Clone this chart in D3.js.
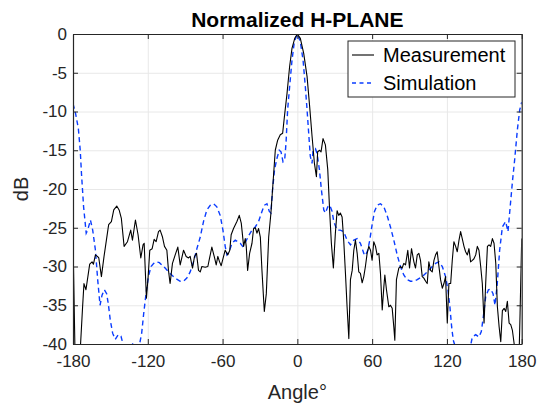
<!DOCTYPE html>
<html>
<head>
<meta charset="utf-8">
<script src="https://cdn.jsdelivr.net/npm/d3@7"></script>
<style>
body { margin: 0; background: #fff; }
svg { font-family: "Liberation Sans", Arial, Helvetica, sans-serif; }
</style>
</head>
<body>
<div id="container"></div>
<script>
// values
const measAngle = [-180, -178.3, -174.6, -172.3, -171.2, -169.6, -166.6, -164.7, -163.6, -162.0, -160.4, -159.3, -157.2, -155.1, -153.2, -151.4, -149.2, -147.3, -144.9, -143.0, -141.2, -139.0, -136.3, -133.7, -132.3, -129.9, -127.8, -125.6, -123.8, -122.9, -121.1, -119.7, -118.4, -116.5, -114.9, -113.3, -111.4, -110.1, -108.2, -106.6, -104.7, -103.4, -102.1, -100.2, -98.0, -95.9, -94.0, -91.3, -89.2, -87.3, -86.0, -84.1, -82.5, -80.9, -79.3, -77.9, -76.6, -73.9, -71.8, -70.4, -68.6, -66.4, -65.1, -63.8, -62.4, -61.1, -59.2, -57.9, -55.8, -54.2, -53.1, -51.2, -48.5, -46.6, -45.0, -43.6, -43.1, -41.8, -41.0, -39.9, -38.3, -36.4, -35.1, -33.7, -32.4, -31.1, -29.7, -28.4, -26.5, -24.9, -23.0, -21.2, -19.0, -17.7, -15.8, -13.7, -11.8, -10.4, -8.3, -6.2, -4.3, -2.1, 0, 2.4, 5.1, 7.8, 9.9, 11.8, 13.7, 15.3, 16.3, 17.9, 19.0, 20.6, 22.5, 24.4, 26.0, 27.3, 28.9, 30.5, 31.9, 33.2, 34.5, 35.9, 37.2, 38.6, 39.9, 41.3, 42.6, 44.0, 45.3, 46.6, 48.0, 49.3, 50.6, 52.0, 53.3, 54.6, 56.0, 57.3, 58.7, 60.0, 61.3, 62.7, 64.0, 65.4, 66.7, 68.1, 69.4, 70.2, 71.5, 73.4, 74.7, 76.1, 77.4, 78.2, 79.5, 81.4, 82.7, 84.1, 85.4, 86.8, 88.6, 90.0, 91.6, 93.5, 94.8, 96.2, 97.5, 98.8, 100.2, 101.5, 102.9, 104.2, 105.5, 106.9, 108.2, 109.6, 110.9, 112.2, 113.6, 114.9, 116.3, 117.6, 118.9, 120.3, 121.6, 123.0, 124.3, 125.6, 127.0, 128.3, 129.7, 131.0, 132.3, 133.7, 135.0, 136.4, 137.7, 139.0, 140.4, 141.7, 143.1, 144.4, 145.7, 147.1, 148.4, 149.8, 151.1, 152.5, 153.8, 155.1, 156.5, 157.8, 159.2, 160.5, 161.9, 163.2, 164.5, 165.9, 167.2, 168.5, 169.9, 171.2, 172.5, 173.9, 174.6, 177.8, 178.7, 180];
const measDb = [-26.4, -42, -42, -35.2, -32.2, -33.0, -29.7, -29.4, -29.7, -28.5, -28.7, -28.9, -31.3, -28.7, -26.6, -24.6, -24.2, -22.7, -22.2, -22.7, -23.8, -27.4, -26.8, -25.3, -26.6, -24.0, -25.9, -28.9, -27.2, -27.0, -34.1, -31.3, -27.9, -27.7, -26.5, -26.8, -25.5, -25.3, -26.2, -27.4, -27.9, -30.5, -32.2, -29.6, -28.5, -27.5, -29.8, -27.9, -28.7, -28.9, -28.7, -30.2, -28.7, -28.3, -30.5, -30.7, -30.0, -30.1, -30.0, -28.9, -27.5, -28.9, -29.8, -28.7, -29.4, -29.9, -28.7, -27.9, -28.5, -27.9, -25.9, -25.1, -24.2, -23.4, -24.4, -26.6, -27.4, -26.4, -27.4, -30.5, -28.3, -27.0, -25.1, -25.0, -25.7, -25.1, -26.2, -30.5, -35.8, -33.5, -26.2, -23.1, -18.0, -15.0, -13.7, -13.0, -12.8, -10.7, -7.7, -4.2, -1.85, -0.56, 0, -0.56, -2.5, -5.5, -9.4, -13.2, -16.7, -18.4, -15.2, -15.0, -15.2, -13.5, -14.3, -17.5, -23.1, -27.0, -30.2, -25.7, -22.8, -23.4, -23.1, -23.6, -26.6, -30.9, -35.2, -39.3, -31.7, -30.5, -27.9, -26.6, -28.3, -30.7, -30.9, -32.1, -31.3, -30.0, -28.3, -27.4, -27.9, -29.2, -26.8, -27.4, -28.5, -28.3, -30.9, -35.6, -32.6, -31.1, -33.0, -35.2, -35.0, -35.4, -37.8, -39.5, -31.7, -30.2, -30.0, -30.2, -29.6, -29.8, -27.9, -30.2, -27.7, -29.4, -30.2, -28.5, -28.3, -29.2, -31.3, -31.5, -31.9, -32.2, -29.4, -30.5, -30.7, -29.2, -28.5, -28.1, -30.0, -31.7, -32.8, -32.2, -31.3, -37.3, -32.2, -32.2, -29.2, -26.8, -27.4, -28.1, -26.6, -25.5, -26.4, -27.4, -28.1, -28.5, -27.7, -29.4, -29.2, -29.0, -28.5, -27.4, -27.9, -30.0, -32.2, -37.3, -32.2, -27.4, -27.2, -27.4, -26.4, -27.0, -29.6, -35.2, -37.8, -39.7, -35.7, -35.4, -35.8, -34.5, -37.3, -37.5, -38.2, -39.9, -42, -42, -36.0, -26.4];

const simAngle = [-180, -178.0, -175.7, -174.2, -173.2, -171.5, -169.4, -168.2, -166.0, -164.2, -162.0, -160.2, -158.3, -156.7, -154.9, -153.0, -151.7, -150.1, -148.2, -146.1, -143.7, -141.5, -139.4, -135, -132.1, -129, -126.8, -124.9, -123.3, -121.4, -119.5, -117.4, -115.2, -113.4, -110.7, -106.1, -102.1, -98.0, -94.0, -91.3, -88.7, -86.0, -83.3, -80.6, -77.9, -75.3, -72.6, -69.9, -67.2, -64.6, -61.9, -59.7, -57.9, -56.5, -54.6, -52.5, -49.8, -47.7, -45.8, -43.9, -41.8, -39.0, -36.4, -33.8, -31.1, -28.4, -26.5, -24.4, -22.5, -21.2, -19.9, -18.3, -16.3, -14.5, -13.1, -11.5, -10.2, -9.1, -7.8, -6.2, -4.3, -2.4, 0, 2.4, 4.6, 6.4, 7.8, 9.1, 10.4, 11.8, 12.6, 14.5, 15.8, 17.7, 19.3, 21.2, 22.5, 24.4, 26.0, 27.9, 29.2, 31.9, 34.5, 37.2, 39.9, 42.6, 45.3, 48.0, 50.6, 53.3, 54.6, 56.5, 58.1, 60.0, 61.9, 64.0, 66.7, 69.4, 72.0, 74.7, 77.4, 80.1, 82.7, 85.4, 88.1, 90.8, 93.5, 96.2, 100.2, 104.2, 108.2, 110.9, 113.6, 116.3, 118.9, 120.8, 122.4, 123.8, 125.1, 126.4, 130, 134, 137, 139, 140.4, 143.1, 145.7, 147.6, 149.2, 151.1, 153.3, 155.1, 157.0, 158.6, 160.4, 162.3, 164.5, 167.1, 169.0, 171.2, 172.6, 174.3, 176.5, 178.4, 180];
const simDb = [-9.0, -10.2, -12.2, -15.0, -18.0, -22.3, -25.7, -25.3, -24.0, -25.3, -27.9, -31.7, -35.0, -33.7, -33.0, -33.5, -34.8, -36.9, -38.6, -39.4, -38.8, -39.0, -40.3, -40.5, -40.0, -40.5, -40.2, -38.6, -36.1, -33.5, -31.3, -30.0, -29.6, -29.4, -29.5, -30.2, -30.9, -31.5, -31.9, -31.9, -31.5, -30.7, -29.4, -27.7, -26.2, -24.2, -22.7, -22.1, -21.9, -22.3, -23.4, -25.3, -27.4, -28.5, -28.1, -27.0, -26.6, -26.8, -27.0, -27.4, -26.9, -26.0, -25.3, -24.9, -24.2, -22.9, -22.1, -21.9, -22.9, -23.1, -20.1, -17.5, -16.0, -15.0, -15.2, -16.5, -16.3, -14.1, -9.8, -6.8, -3.4, -1.0, 0, -1.0, -3.4, -6.8, -9.8, -12.8, -15.8, -16.7, -15.0, -14.8, -15.4, -17.5, -20.1, -22.7, -23.1, -22.3, -22.1, -22.9, -24.2, -25.3, -25.3, -25.5, -26.6, -27.2, -26.6, -26.4, -27.0, -28.3, -28.6, -27.9, -26.6, -24.6, -22.9, -22.1, -21.9, -22.3, -23.4, -24.9, -26.6, -28.5, -30.0, -31.1, -31.7, -31.9, -31.9, -31.7, -31.3, -30.7, -30.0, -29.6, -29.4, -30.0, -31.3, -33.0, -35.2, -37.8, -39.5, -40.2, -40.5, -40.3, -40.5, -40.2, -39.1, -38.8, -39.1, -38.4, -36.5, -33.9, -33.0, -32.9, -33.5, -35.0, -32.2, -27.9, -24.9, -24.2, -25.5, -21.5, -19.0, -16.3, -12.4, -9.8, -8.8];

const xTicks = [-180, -120, -60, 0, 60, 120, 180];
const yTicks = [-40, -35, -30, -25, -20, -15, -10, -5, 0];
const seriesNames = ['Measurement', 'Simulation'];

const width = 538;
const height = 406;
const plotLeft = 73, plotRight = 521.7, plotTop = 34, plotBottom = 344;

const svg = d3.select('#container').append('svg')
    .attr('width', width)
    .attr('height', height);

const x = d3.scaleLinear().domain([-180, 180]).range([plotLeft, plotRight]);
const y = d3.scaleLinear().domain([-40, 0]).range([plotBottom, plotTop]);

// plain hyphen minus, like the original labels
const tickText = d => String(d);

// grid
svg.append('g')
    .attr('transform', `translate(0,${plotBottom})`)
    .call(d3.axisBottom(x).tickValues(xTicks).tickSize(-(plotBottom - plotTop)).tickFormat(''))
    .call(g => g.select('.domain').remove())
    .call(g => g.selectAll('line').attr('stroke', '#e8e8e8'));
svg.append('g')
    .attr('transform', `translate(${plotLeft},0)`)
    .call(d3.axisLeft(y).tickValues(yTicks).tickSize(-(plotRight - plotLeft)).tickFormat(''))
    .call(g => g.select('.domain').remove())
    .call(g => g.selectAll('line').attr('stroke', '#e8e8e8'));

svg.append('clipPath').attr('id', 'clip')
    .append('rect')
    .attr('x', plotLeft).attr('y', plotTop)
    .attr('width', plotRight - plotLeft).attr('height', plotBottom - plotTop);

const line = d3.line()
    .x(d => x(d[0]))
    .y(d => y(d[1]));

svg.append('path')
    .datum(simAngle.map((a, i) => [a, simDb[i]]))
    .attr('clip-path', 'url(#clip)')
    .attr('d', line)
    .attr('fill', 'none')
    .attr('stroke', '#0a3cff')
    .attr('stroke-width', 1.4)
    .attr('stroke-dasharray', '5,3.5');

svg.append('path')
    .datum(measAngle.map((a, i) => [a, measDb[i]]))
    .attr('clip-path', 'url(#clip)')
    .attr('d', line)
    .attr('fill', 'none')
    .attr('stroke', '#000')
    .attr('stroke-width', 1.1)
    .attr('stroke-linejoin', 'round');

// axes, ticks inside like the box of the original
const styleAxis = g => {
    g.attr('font-family', null);
    g.select('.domain').attr('stroke', '#262626').attr('stroke-width', 1.2);
    g.selectAll('.tick line').attr('stroke', '#262626');
    g.selectAll('text').attr('fill', '#262626').attr('font-size', 17);
};

svg.append('g')
    .attr('transform', `translate(0,${plotBottom})`)
    .call(d3.axisBottom(x).tickValues(xTicks).tickFormat(tickText).tickSizeInner(-5).tickSizeOuter(0).tickPadding(11))
    .call(styleAxis);
svg.append('g')
    .attr('transform', `translate(${plotLeft},0)`)
    .call(d3.axisLeft(y).tickValues(yTicks).tickFormat(tickText).tickSizeInner(-5).tickSizeOuter(0).tickPadding(6))
    .call(styleAxis);
svg.append('g')
    .attr('transform', `translate(0,${plotTop})`)
    .call(d3.axisTop(x).tickValues(xTicks).tickSizeInner(-5).tickSizeOuter(0).tickFormat(''))
    .call(styleAxis);
svg.append('g')
    .attr('transform', `translate(${plotRight},0)`)
    .call(d3.axisRight(y).tickValues(yTicks).tickSizeInner(-5).tickSizeOuter(0).tickFormat(''))
    .call(styleAxis);

// title and labels
svg.append('text')
    .attr('x', (plotLeft + plotRight) / 2)
    .attr('y', 27)
    .attr('text-anchor', 'middle')
    .attr('font-weight', 'bold')
    .attr('font-size', 21)
    .text('Normalized H-PLANE');

svg.append('text')
    .attr('x', (plotLeft + plotRight) / 2)
    .attr('y', 399)
    .attr('text-anchor', 'middle')
    .attr('font-size', 20)
    .attr('fill', '#262626')
    .text('Angle°');

svg.append('text')
    .attr('transform', `translate(28,${(plotTop + plotBottom) / 2}) rotate(-90)`)
    .attr('text-anchor', 'middle')
    .attr('font-size', 20)
    .attr('fill', '#262626')
    .text('dB');

// legend
const legend = svg.append('g');
legend.append('rect')
    .attr('x', 348).attr('y', 41)
    .attr('width', 167).attr('height', 56)
    .attr('fill', '#fff')
    .attr('stroke', '#262626')
    .attr('stroke-width', 1);

seriesNames.forEach((name, i) => {
    const ly = 55 + i * 28;
    legend.append('line')
        .attr('x1', 352).attr('x2', 374)
        .attr('y1', ly).attr('y2', ly)
        .attr('stroke', i === 0 ? '#000' : '#0a3cff')
        .attr('stroke-width', i === 0 ? 1.1 : 1.4)
        .attr('stroke-dasharray', i === 0 ? null : '4,3.5');
    legend.append('text')
        .attr('x', 383)
        .attr('y', ly)
        .attr('dy', '0.35em')
        .attr('font-size', 20)
        .attr('fill', '#000')
        .text(name);
});
</script>
</body>
</html>
